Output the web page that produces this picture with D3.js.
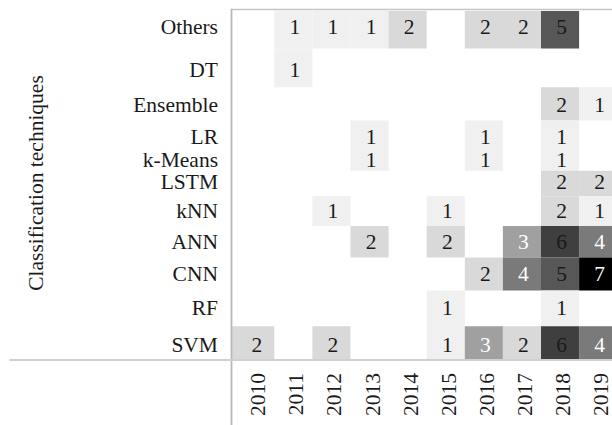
<!DOCTYPE html>
<html>
<head>
<meta charset="utf-8">
<script src="https://cdn.jsdelivr.net/npm/d3@7"></script>
<style>
  html, body { margin: 0; padding: 0; background: #fff; }
  svg { display: block; }
  text { font-family: "Liberation Serif", "Times New Roman", serif; }
</style>
</head>
<body>
<svg id="chart" width="612" height="425"></svg>
<script>
// ---- data ----
const years = [2010, 2011, 2012, 2013, 2014, 2015, 2016, 2017, 2018, 2019];
const categories = ["Others", "DT", "Ensemble", "LR", "k-Means", "LSTM", "kNN", "ANN", "CNN", "RF", "SVM"];
const others   = [0, 1, 1, 1, 2, 0, 2, 2, 5, 0];
const dt       = [0, 1, 0, 0, 0, 0, 0, 0, 0, 0];
const ensemble = [0, 0, 0, 0, 0, 0, 0, 0, 2, 1];
const lr       = [0, 0, 0, 1, 0, 0, 1, 0, 1, 0];
const kMeans   = [0, 0, 0, 1, 0, 0, 1, 0, 1, 0];
const lstm     = [0, 0, 0, 0, 0, 0, 0, 0, 2, 2];
const knn      = [0, 0, 1, 0, 0, 1, 0, 0, 2, 1];
const ann      = [0, 0, 0, 2, 0, 2, 0, 3, 6, 4];
const cnn      = [0, 0, 0, 0, 0, 0, 2, 4, 5, 7];
const rf       = [0, 0, 0, 0, 0, 1, 0, 0, 1, 0];
const svm      = [2, 0, 2, 0, 0, 1, 3, 2, 6, 4];
const yAxisTitle = "Classification techniques";

const series = [others, dt, ensemble, lr, kMeans, lstm, knn, ann, cnn, rf, svm];
const cells = [];
categories.forEach((c, i) => {
  series[i].forEach((v, j) => { if (v > 0) cells.push({ cat: c, year: years[j], value: v }); });
});

// ---- layout ----
const svg = d3.select("#chart");
const plotLeft = 231.5, plotTop = 9.5, plotBottom = 360;
const cellTop = 11, cellBottom = 359.5;
const fontSize = 21.5;

const x = d3.scaleBand().domain(years).range([236.2, 617.2]).paddingInner(0).paddingOuter(0);
// row centres (non-uniform spacing as in the reference)
const y = d3.scaleOrdinal().domain(categories)
  .range([27, 70, 104.5, 136.5, 159.5, 182, 210.5, 241.5, 273.5, 307.5, 345]);

function rowTop(c) {
  const i = categories.indexOf(c);
  return i === 0 ? cellTop : (y(categories[i - 1]) + y(c)) / 2;
}
function rowBottom(c) {
  const i = categories.indexOf(c);
  return i === categories.length - 1 ? cellBottom : (y(c) + y(categories[i + 1])) / 2;
}

const color = d3.scaleLinear()
  .domain([1, 2, 3, 4, 5, 6, 7])
  .range(["#f0f0f0", "#d9d9d9", "#a0a0a0", "#7a7a7a", "#575757", "#3f3f3f", "#000000"]);
const textColor = v => (v === 3 || v === 4 || v === 7) ? "#ffffff" : "#1a1a1a";

// ---- cells ----
svg.append("g").selectAll("rect").data(cells).join("rect")
  .attr("x", d => d.year === years[0] ? plotLeft : x(d.year))
  .attr("width", d => d.year === years[0] ? x(d.year) + x.bandwidth() - plotLeft : x.bandwidth())
  .attr("y", d => rowTop(d.cat))
  .attr("height", d => rowBottom(d.cat) - rowTop(d.cat))
  .attr("fill", d => color(d.value));

svg.append("g").selectAll("text").data(cells).join("text")
  .attr("x", d => x(d.year) + x.bandwidth() / 2 + 1.5)
  .attr("y", d => y(d.cat))
  .attr("dominant-baseline", "central")
  .attr("text-anchor", "middle")
  .attr("font-size", fontSize)
  .attr("fill", d => textColor(d.value))
  .text(d => d.value);

// ---- frame lines ----
const lineColor = "#c4c4c4";
svg.append("line").attr("x1", plotLeft).attr("x2", 612).attr("y1", plotTop).attr("y2", plotTop)
  .attr("stroke", lineColor).attr("stroke-width", 1.5);
svg.append("line").attr("x1", plotLeft).attr("x2", plotLeft).attr("y1", plotTop - 0.75).attr("y2", 425)
  .attr("stroke", "#b8b8b8").attr("stroke-width", 1.8);
svg.append("line").attr("x1", 9.5).attr("x2", 612).attr("y1", plotBottom).attr("y2", plotBottom)
  .attr("stroke", "#d0d0d0").attr("stroke-width", 1.8);

// ---- y tick labels ----
svg.append("g").selectAll("text").data(categories).join("text")
  .attr("x", 218)
  .attr("y", d => y(d))
  .attr("text-anchor", "end")
  .attr("dominant-baseline", "central")
  .attr("font-size", fontSize)
  .attr("fill", "#1a1a1a")
  .text(d => d);

// ---- x tick labels ----
svg.append("g").selectAll("text").data(years).join("text")
  .attr("transform", d => `translate(${x(d) + x.bandwidth() / 2 + 3},373) rotate(-90)`)
  .attr("text-anchor", "end")
  .attr("dominant-baseline", "central")
  .attr("font-size", fontSize)
  .attr("fill", "#1a1a1a")
  .text(d => d);

// ---- y axis title ----
svg.append("text")
  .attr("transform", "translate(43,183) rotate(-90)")
  .attr("text-anchor", "middle")
  .attr("font-size", fontSize)
  .attr("fill", "#1a1a1a")
  .text(yAxisTitle);
</script>
</body>
</html>
